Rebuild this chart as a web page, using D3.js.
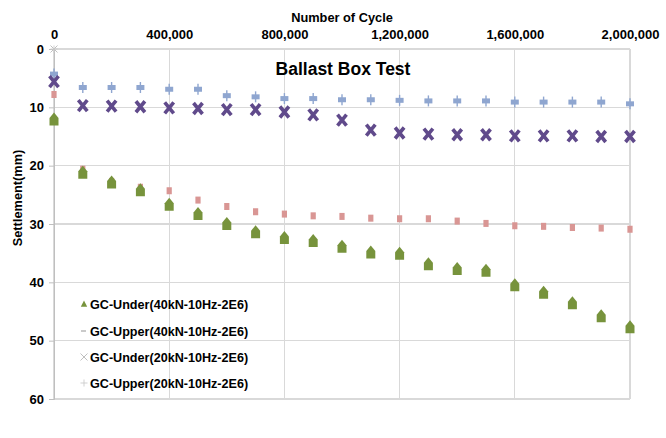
<!DOCTYPE html>
<html><head><meta charset="utf-8">
<script src="https://cdn.jsdelivr.net/npm/d3@7/dist/d3.min.js"></script>
<style>
html,body{margin:0;padding:0;background:#fff;}
svg{display:block;font-family:"Liberation Sans",Arial,sans-serif;}
</style></head>
<body>
<script>
// ---- data ----
const cycles = [0,100000,200000,300000,400000,500000,600000,700000,800000,900000,1000000,
  1100000,1200000,1300000,1400000,1500000,1600000,1700000,1800000,1900000,2000000];
const gcUnder40 = [12.1,21.2,22.9,24.2,26.7,28.3,30.0,31.4,32.4,32.9,33.9,34.9,35.1,36.9,37.7,38.0,40.5,41.8,43.6,45.8,47.7];
const gcUpper40 = [7.8,20.6,22.7,23.7,24.3,25.9,27.0,27.9,28.3,28.6,28.7,29.0,29.1,29.1,29.5,29.9,30.3,30.4,30.6,30.7,30.9];
const gcUnder20 = [5.6,9.7,9.8,9.9,10.1,10.2,10.4,10.4,10.8,11.3,12.2,13.9,14.4,14.6,14.7,14.7,14.9,14.9,14.9,15.0,15.0];
const gcUpper20 = [4.3,6.6,6.6,6.6,6.9,6.9,8.0,8.2,8.5,8.5,8.7,8.7,8.8,8.9,8.9,8.9,9.1,9.1,9.1,9.1,9.4];
const startCycle = [0];
const gcUnder20Start = [0];
const gcUpper20Start = [0];
const xTicks = [0,400000,800000,1200000,1600000,2000000];
const yTicks = [0,10,20,30,40,50,60];
const seriesNames = ["GC-Under(40kN-10Hz-2E6)","GC-Upper(40kN-10Hz-2E6)","GC-Under(20kN-10Hz-2E6)","GC-Upper(20kN-10Hz-2E6)"];
const title = "Ballast Box Test";
const xTitle = "Number of Cycle";
const yTitle = "Settlement(mm)";

// ---- chart ----
const W = 666, H = 438;
const svg = d3.select("body").append("svg").attr("width", W).attr("height", H);
const x = d3.scaleLinear().domain([0, 2000000]).range([54, 630]);
const y = d3.scaleLinear().domain([0, 60]).range([49, 399]);
const grid = "#d9d9d9";

// gridlines
svg.append("g").selectAll("line").data(yTicks).join("line")
  .attr("x1", x(0)).attr("x2", x(2000000))
  .attr("y1", d => y(d)).attr("y2", d => y(d))
  .attr("stroke", grid).attr("stroke-width", 1.2).attr("shape-rendering","crispEdges");
svg.append("g").selectAll("line").data(xTicks).join("line")
  .attr("x1", d => x(d)).attr("x2", d => x(d))
  .attr("y1", y(0)).attr("y2", y(60))
  .attr("stroke", grid).attr("stroke-width", 1.2).attr("shape-rendering","crispEdges");

// axes
const fmt = d3.format(",");
const xAxis = svg.append("g").attr("transform", `translate(0,${y(0)})`)
  .call(d3.axisTop(x).tickValues(xTicks).tickFormat(fmt).tickSize(0).tickPadding(10));
const yAxis = svg.append("g").attr("transform", `translate(${x(0)},0)`)
  .call(d3.axisLeft(y).tickValues(yTicks).tickSize(5).tickPadding(5));
[xAxis, yAxis].forEach(g => {
  g.select(".domain").attr("stroke", "#bfbfbf");
  g.selectAll(".tick line").attr("stroke", "#bfbfbf");
  g.selectAll("text").attr("font-size", 13).attr("font-weight", "bold").attr("fill", "#000")
   .attr("font-family", '"Liberation Sans",Arial,sans-serif');
});
xAxis.select(".domain").remove();

svg.append("text").attr("x", 342).attr("y", 22).attr("text-anchor", "middle")
  .attr("font-size", 12.8).attr("font-weight", "bold").text(xTitle);
svg.append("text").attr("transform", "translate(22,198) rotate(-90)").attr("text-anchor", "middle")
  .attr("font-size", 12.8).attr("font-weight", "bold").text(yTitle);
svg.append("text").attr("x", 343).attr("y", 75).attr("text-anchor", "middle")
  .attr("font-size", 17.5).attr("font-weight", "bold").text(title);

// marker drawers
const green = "#77933c", pink = "#d99694", purple = "#604a8b", blue = "#8fa6d0";
function house(g){ g.append("path").attr("d","M0,-7 L4.5,-1.5 L4.5,6 L-4.5,6 L-4.5,-1.5 Z").attr("fill", green); }
function pinkSq(g){ g.append("rect").attr("x",-2.6).attr("y",-3.5).attr("width",5.2).attr("height",7).attr("fill", pink); }
function bigX(g){ g.append("path").attr("d","M-4.5,-5.5 L4.5,5.5 M4.5,-5.5 L-4.5,5.5").attr("stroke", purple).attr("stroke-width",3.6).attr("fill","none"); }
function bluePlus(g){
  g.append("line").attr("x1",0).attr("x2",0).attr("y1",-5.5).attr("y2",5.5).attr("stroke", blue).attr("stroke-width",1.4);
  g.append("rect").attr("x",-4).attr("y",-2.5).attr("width",8).attr("height",5).attr("fill", blue);
}
function smallX(g){ g.append("path").attr("d","M-3.5,-3.5 L3.5,3.5 M3.5,-3.5 L-3.5,3.5").attr("stroke","#b8b8b8").attr("stroke-width",0.9).attr("fill","none"); }
function smallPlus(g){ g.append("path").attr("d","M-3.5,0 L3.5,0 M0,-3.5 L0,3.5").attr("stroke","#cccccc").attr("stroke-width",0.9).attr("fill","none"); }
function smallTri(g){ g.append("path").attr("d","M0,-3.5 L3.2,2.8 L-3.2,2.8 Z").attr("fill", green); }
function dash(g){ g.append("line").attr("x1",-3).attr("x2",2).attr("y1",0).attr("y2",0).attr("stroke","#a6a6a6").attr("stroke-width",1.2); }

function plot(xs, vals, draw){
  const g = svg.append("g");
  g.selectAll("g").data(vals).join("g")
    .attr("transform", (d,i) => `translate(${x(xs[i])},${y(d)})`)
    .each(function(){ draw(d3.select(this)); });
}
plot(cycles, gcUpper20, bluePlus);
plot(cycles, gcUnder20, bigX);
plot(cycles, gcUpper40, pinkSq);
plot(cycles, gcUnder40, house);
plot(startCycle, gcUnder20Start, smallX);
plot(startCycle, gcUpper20Start, smallPlus);

// legend
const legendDraw = [smallTri, dash, smallX, smallPlus];
const legY = [304, 331, 357, 383];
seriesNames.forEach((name, i) => {
  const g = svg.append("g").attr("transform", `translate(84,${legY[i]})`);
  legendDraw[i](g);
  g.append("text").attr("x", 6).attr("y", 4.5).attr("font-size", 12.6).attr("font-weight","bold").text(name);
});
</script>
</body></html>
